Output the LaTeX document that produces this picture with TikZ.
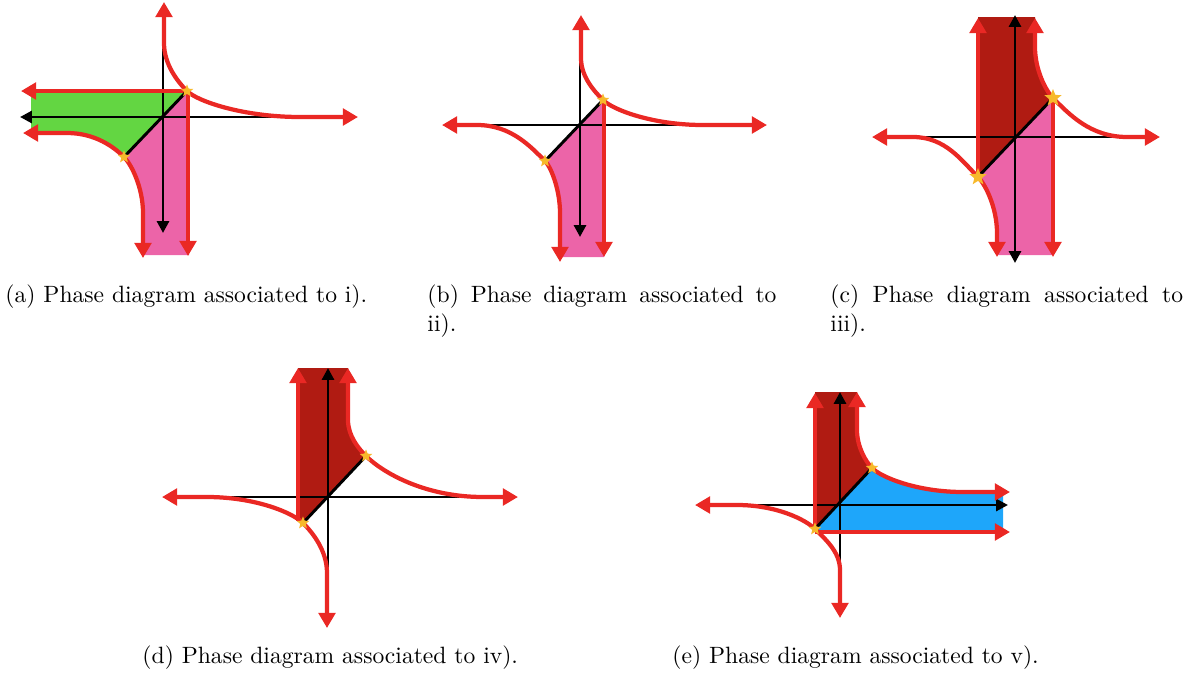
\documentclass[tikz,border=0pt]{standalone}
\usetikzlibrary{arrows.meta,shapes.geometric}
\definecolor{cred}{RGB}{234,40,36}
\definecolor{cpink}{RGB}{236,100,168}
\definecolor{cgreen}{RGB}{99,214,66}
\definecolor{cdark}{RGB}{176,27,18}
\definecolor{cblue}{RGB}{30,166,250}
\definecolor{cgold}{RGB}{247,185,43}
\tikzset{
 rl/.style={draw=cred, line width=1.8pt, line join=round},
 bl/.style={draw=black, line width=1.25pt},
 rtipboth/.style={{Triangle[length=6.4pt,width=7pt]}-{Triangle[length=6.4pt,width=7pt]}},
 rtipend/.style={-{Triangle[length=6.4pt,width=7pt]}},
 btipend/.style={-{Triangle[length=5pt,width=5pt]}},
 btipboth/.style={{Triangle[length=5pt,width=5pt]}-{Triangle[length=5pt,width=5pt]}},
 gstar/.style={shape=star, star points=5, star point ratio=2.3, fill=cgold, inner sep=0pt, minimum size=5.6pt},
 bigstar/.style={gstar, minimum size=7.6pt},
 captxt/.style={inner sep=0pt, font=\fontsize{10}{12}\selectfont, anchor=base west},
}
% upper hyperbola control points: prefix, cx, cy, sx, sy, Ty, Rx
\newcommand\mkupper[7]{%
  \coordinate (#1T) at (#2,#6);
  \coordinate (#1S) at (#4,#5);
  \coordinate (#1R) at (#7,#3);
  \coordinate (#1a) at (#2,{#6+0.45*(#5-#6)});
  \coordinate (#1b) at ({#4-0.4*(#4-#2)},{#5-0.4*(#4-#2)});
  \coordinate (#1c) at ({#4+0.4*(#3-#5)},{#5+0.4*(#3-#5)});
  \coordinate (#1d) at ({#7-0.5*(#7-#4)},#3);
}
% lower hyperbola control points: prefix, cx, cy, sx, sy, Lx, Vy
\newcommand\mklower[7]{%
  \coordinate (#1L) at (#6,#3);
  \coordinate (#1S) at (#4,#5);
  \coordinate (#1V) at (#2,#7);
  \coordinate (#1a) at ({#6+0.5*(#4-#6)},#3);
  \coordinate (#1b) at ({#4-0.4*(#5-#3)},{#5-0.4*(#5-#3)});
  \coordinate (#1c) at ({#4+0.4*(#2-#4)},{#5+0.4*(#2-#4)});
  \coordinate (#1d) at (#2,{#7-0.45*(#7-#5)});
}
\begin{document}
\begin{tikzpicture}[x=0.424pt,y=-0.424pt]
\useasboundingbox (0,0) rectangle (1192,675);

% ---------------- (a)
\mkupper{aU}{164}{117}{187}{91}{43}{300}
\mklower{aL}{143}{133}{124}{157}{67}{213}
\fill[cgreen] (31,91) -- (aUS) -- (aLS) .. controls (aLb) and (aLa) .. (aLL) -- (31,133) -- cycle;
\fill[cpink] (aLS) -- (aUS) -- (189,91) -- (189,255) -- (143,255) -- (aLV) .. controls (aLd) and (aLc) .. (aLS) -- cycle;
\draw[bl,btipend] (330,117) -- (20,117);
\draw[bl,btipend] (163,38) -- (163,233);
\draw[rl,rtipboth] (164,2) -- (aUT) .. controls (aUa) and (aUb) .. (aUS) .. controls (aUc) and (aUd) .. (aUR) -- (358,117);
\draw[rl,rtipboth] (23,133) -- (aLL) .. controls (aLa) and (aLb) .. (aLS) .. controls (aLc) and (aLd) .. (aLV) -- (143,258);
\draw[rl,rtipend] (189,91) -- (21,91);
\draw[rl,rtipend] (188,89) -- (188,256);
\draw[bl] (aLS) -- (aUS);
\node[gstar] (sa1) at (aUS) {};
\node[gstar] (sa2) at (aLS) {};

% ---------------- (b)
\mkupper{bU}{581}{125}{603}{100}{58}{703}
\mklower{bL}{560}{125}{545}{161}{477}{213}
\fill[cpink] (bLS) -- (bUS) -- (604,100) -- (604,257) -- (560,257) -- (bLV) .. controls (bLd) and (bLc) .. (bLS) -- cycle;
\draw[bl] (453,125) -- (740,125);
\draw[bl,btipend] (580,55) -- (580,237);
\draw[rl,rtipboth] (581,15) -- (bUT) .. controls (bUa) and (bUb) .. (bUS) .. controls (bUc) and (bUd) .. (bUR) -- (767,125);
\draw[rl,rtipboth] (442,125) -- (bLL) .. controls (bLa) and (bLb) .. (bLS) .. controls (bLc) and (bLd) .. (bLV) -- (560,262);
\draw[rl,rtipend] (604,100) -- (604,257);
\draw[bl] (bLS) -- (bUS);
\node[gstar] (sb1) at (bUS) {};
\node[gstar] (sb2) at (bLS) {};

% ---------------- (c)
\mkupper{cU}{1035}{137}{1053}{98}{47}{1127}
\mklower{cL}{997}{137}{978}{177}{913}{233}
\fill[cdark] (978,177) -- (978,17) -- (1035,17) -- (cUT) .. controls (cUa) and (cUb) .. (cUS) -- cycle;
\fill[cpink] (cLS) -- (cUS) -- (1053,98) -- (1053,255) -- (997,255) -- (cLV) .. controls (cLd) and (cLc) .. (cLS) -- cycle;
\draw[bl] (913,137) -- (1145,137);
\draw[bl,btipboth] (1015,15) -- (1015,263);
\draw[rl,rtipboth] (1035,18) -- (cUT) .. controls (cUa) and (cUb) .. (cUS) .. controls (cUc) and (cUd) .. (cUR) -- (1160,137);
\draw[rl,rtipboth] (872,137) -- (cLL) .. controls (cLa) and (cLb) .. (cLS) .. controls (cLc) and (cLd) .. (cLV) -- (997,257);
\draw[rl,rtipend] (978,177) -- (978,18);
\draw[rl,rtipend] (1053,98) -- (1053,257);
\draw[bl] (cLS) -- (cUS);
\node[bigstar] (sc1) at (cUS) {};
\node[bigstar] (sc2) at (cLS) {};

% ---------------- (d)
\mkupper{dU}{348}{497}{366}{456}{420}{483}
\mklower{dL}{327}{497}{303}{523}{207}{573}
\fill[cdark] (298,521) -- (298,368) -- (348,368) -- (dUT) .. controls (dUa) and (dUb) .. (dUS) -- (dLS) -- cycle;
\draw[bl] (170,497) -- (500,497);
\draw[bl,btipend] (328,573) -- (328,368);
\draw[rl,rtipboth] (348,368) -- (dUT) .. controls (dUa) and (dUb) .. (dUS) .. controls (dUc) and (dUd) .. (dUR) -- (518,497);
\draw[rl,rtipboth] (162,497) -- (dLL) .. controls (dLa) and (dLb) .. (dLS) .. controls (dLc) and (dLd) .. (dLV) -- (327,628);
\draw[rl,rtipend] (298,521) -- (298,368);
\draw[bl] (dLS) -- (dUS);
\node[gstar] (sd1) at (dUS) {};
\node[gstar] (sd2) at (dLS) {};

% ---------------- (e)
\mkupper{eU}{857}{492}{872}{468}{430}{963}
\mklower{eL}{840}{505}{815}{529}{737}{570}
\fill[cdark] (815,529) -- (815,392) -- (857,392) -- (eUT) .. controls (eUa) and (eUb) .. (eUS) -- cycle;
\fill[cblue] (eLS) -- (eUS) .. controls (eUc) and (eUd) .. (eUR) -- (1003,492) -- (1003,532) -- (815,532) -- cycle;
\draw[bl,btipend] (737,505) -- (1008,505);
\draw[bl,btipend] (840,570) -- (840,392);
\draw[rl,rtipboth] (857,392) -- (eUT) .. controls (eUa) and (eUb) .. (eUS) .. controls (eUc) and (eUd) .. (eUR) -- (1010,492);
\draw[rl,rtipboth] (695,505) -- (eLL) .. controls (eLa) and (eLb) .. (eLS) .. controls (eLc) and (eLd) .. (eLV) -- (840,618);
\draw[rl,rtipend] (815,529) -- (815,393);
\draw[rl,rtipend] (815,532) -- (1010,532);
\draw[bl] (eLS) -- (eUS);
\node[gstar] (se1) at (eUS) {};
\node[gstar] (se2) at (eLS) {};

% ---------------- captions
\node[captxt] (capa) at (5,302.5) {(a) Phase diagram associated to i).};
\node[captxt] (capb) at (427,302.5) {\makebox[148pt][s]{(b) Phase diagram associated to}};
\node[captxt] (capb2) at (427,331) {ii).};
\node[captxt] (capc) at (830,302.5) {\makebox[149.5pt][s]{(c) Phase diagram associated to}};
\node[captxt] (capc2) at (830,331) {iii).};
\node[captxt] (capd) at (142,663) {(d) Phase diagram associated to iv).};
\node[captxt] (cape) at (672,663) {(e) Phase diagram associated to v).};
\end{tikzpicture}
\end{document}
